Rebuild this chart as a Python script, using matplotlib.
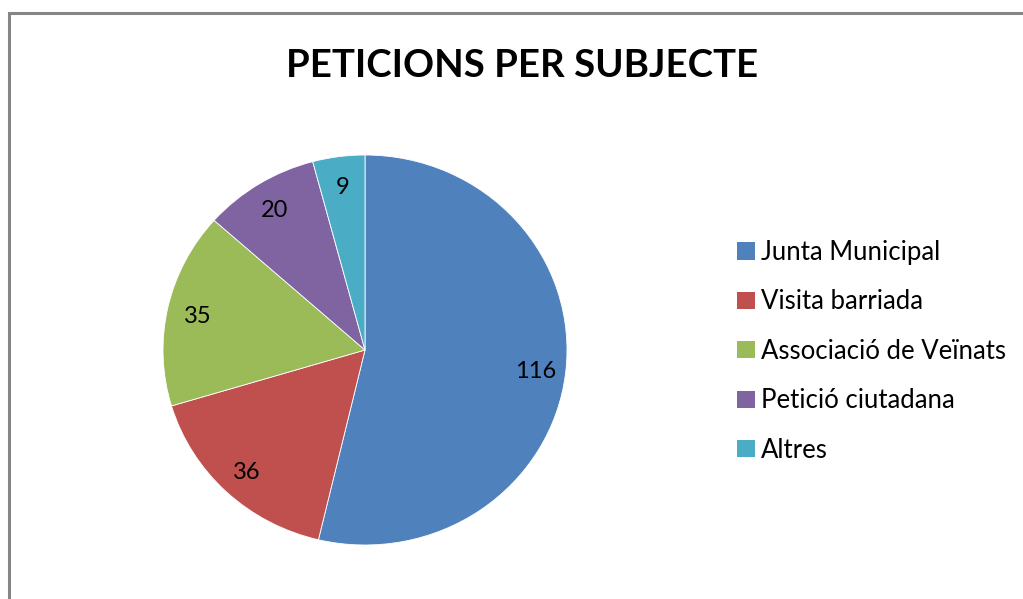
import matplotlib
matplotlib.use('Agg')
from matplotlib import pyplot as plt
from matplotlib.patches import Rectangle, Patch

plt.rcParams['font.family'] = ['Lato', 'DejaVu Sans']

labels = ['Junta Municipal', 'Visita barriada', 'Associació de Veïnats',
          'Petició ciutadana', 'Altres']
values = [116, 36, 35, 20, 9]
colors = ['#4F81BD', '#C0504D', '#9BBB59', '#8064A2', '#4BACC6']

W, H = 1023, 599
fig = plt.figure(figsize=(W / 100, H / 100), dpi=100)

# grey chart border (open to the right and bottom, as in the source)
fig.patches.append(Rectangle((8.5 / W, -0.1), 1.2, 1.1 - 13 / H, transform=fig.transFigure,
                             fill=False, edgecolor='#868686', linewidth=2.2))

# the source pie is slightly stretched horizontally
cx, cy, rx, ry = 365, 350, 202, 195
ax = fig.add_axes([(cx - rx) / W, (H - cy - ry) / H, 2 * rx / W, 2 * ry / H])
wedges, texts = ax.pie(values, colors=colors, startangle=90, counterclock=False,
                       labels=[str(v) for v in values], labeldistance=0.85,
                       wedgeprops=dict(edgecolor='white', linewidth=0.6),
                       textprops=dict(fontsize=17, color='black'))
for t in texts:
    t.set_horizontalalignment('center')
    t.set_verticalalignment('center_baseline')
ax.set_xlim(-1, 1)
ax.set_ylim(-1, 1)
ax.set_aspect('auto')
ax.axis('off')

fig.text(522 / W, 1 - 66 / H, 'PETICIONS PER SUBJECTE', ha='center', va='center',
         fontsize=27.6, fontweight='bold')

handles = [Patch(facecolor=c, edgecolor='none') for c in colors]
fig.legend(handles, labels, loc='upper left', bbox_to_anchor=(737 / W, 1 - 240 / H),
           frameon=False, fontsize=18.5, handlelength=0.7, handleheight=0.66,
           handletextpad=0.23, labelspacing=0.95, borderpad=0, borderaxespad=0)

fig.savefig('out.png', dpi=100)
